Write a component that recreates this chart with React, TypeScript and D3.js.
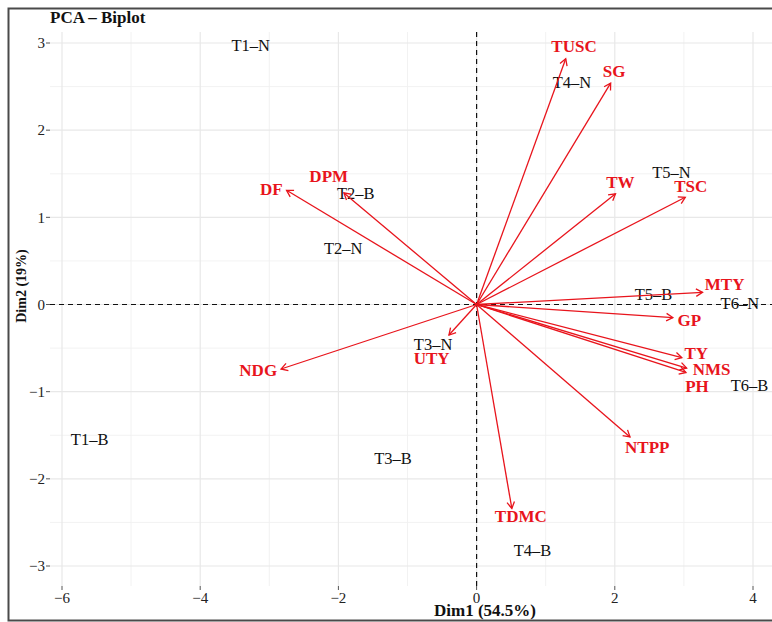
import React from "react";
import * as d3 from "d3";

// individuals (Dim1, Dim2)
const indNames = ["T1–N", "T1–B", "T2–N", "T2–B", "T3–N", "T3–B", "T4–N", "T4–B", "T5–N", "T5–B", "T6–N", "T6–B"];
const indDim1 = [-3.27, -5.6, -1.93, -1.75, -0.63, -1.21, 1.38, 0.81, 2.82, 2.56, 3.81, 3.95];
const indDim2 = [2.97, -1.54, 0.65, 1.28, -0.45, -1.76, 2.55, -2.82, 1.52, 0.12, 0.01, -0.93];

// variables: arrow tips and where the label sits
const varNames = ["TUSC", "SG", "TW", "TSC", "DF", "DPM", "NDG", "UTY", "MTY", "GP", "TY", "NMS", "PH", "NTPP", "TDMC"];
const varDim1 = [1.29, 1.94, 2.01, 3.02, -2.75, -1.92, -2.83, -0.4, 3.27, 2.84, 2.97, 3.04, 3.03, 2.22, 0.51];
const varDim2 = [2.82, 2.54, 1.27, 1.23, 1.31, 1.28, -0.74, -0.35, 0.14, -0.15, -0.61, -0.73, -0.78, -1.52, -2.34];
const varLabelDim1 = [1.41, 1.99, 2.08, 3.1, -2.97, -2.14, -3.16, -0.65, 3.59, 3.08, 3.18, 3.4, 3.19, 2.47, 0.64];
const varLabelDim2 = [2.96, 2.68, 1.41, 1.36, 1.33, 1.47, -0.75, -0.61, 0.24, -0.18, -0.56, -0.74, -0.93, -1.64, -2.43];

const xTicks = [-6, -4, -2, 0, 2, 4];
const xMinor = [-5, -3, -1, 1, 3];
const yTicks = [-3, -2, -1, 0, 1, 2, 3];
const yMinor = [-2.5, -1.5, -0.5, 0.5, 1.5, 2.5];

const RED = "#e8141c";

const App = () => {
  const left = 50;
  const right = 772;
  const top = 32;
  const bottom = 586;

  const x = d3.scaleLinear().domain([-6, 4]).range([62, 753]);
  const y = d3.scaleLinear().domain([-3, 3]).range([566, 43]);
  const fmt = d3.format("d");

  const arrowHead = (x1: number, y1: number, x2: number, y2: number) => {
    const a = Math.atan2(y2 - y1, x2 - x1);
    const len = 7.5;
    const spread = Math.PI / 6;
    const p1 = [x2 - len * Math.cos(a - spread), y2 - len * Math.sin(a - spread)];
    const p2 = [x2 - len * Math.cos(a + spread), y2 - len * Math.sin(a + spread)];
    return `M${p1[0]},${p1[1]}L${x2},${y2}L${p2[0]},${p2[1]}`;
  };

  return (
    <svg
      width={772}
      height={622}
      style={{ position: "absolute", left: 0, top: 0, background: "#fff" }}
      fontFamily="'Liberation Serif', 'Times New Roman', serif"
    >
      {/* grid */}
      <g>
        {yMinor.map((t) => (
          <line key={"ym" + t} x1={left} x2={right} y1={y(t)} y2={y(t)} stroke="#f0f0f0" strokeWidth={0.9} />
        ))}
        {xMinor.map((t) => (
          <line key={"xm" + t} x1={x(t)} x2={x(t)} y1={top} y2={bottom} stroke="#f0f0f0" strokeWidth={0.9} />
        ))}
        {yTicks.map((t) => (
          <line key={"y" + t} x1={left} x2={right} y1={y(t)} y2={y(t)} stroke="#e8e8e8" strokeWidth={1.2} />
        ))}
        {xTicks.map((t) => (
          <line key={"x" + t} x1={x(t)} x2={x(t)} y1={top} y2={bottom} stroke="#e8e8e8" strokeWidth={1.2} />
        ))}
      </g>

      {/* origin lines */}
      <line x1={left} x2={right} y1={y(0)} y2={y(0)} stroke="#111" strokeWidth={1.2} strokeDasharray="5,4" />
      <line x1={x(0)} x2={x(0)} y1={top} y2={bottom} stroke="#111" strokeWidth={1.2} strokeDasharray="5,4" />

      {/* axes ticks + labels */}
      <g fill="#222" fontSize={15}>
        {yTicks.map((t) => (
          <g key={"yt" + t}>
            <line x1={46} x2={50} y1={y(t)} y2={y(t)} stroke="#555" strokeWidth={1} />
            <text x={45} y={y(t)} dy="0.35em" textAnchor="end">
              {d3.format("")(t).replace("-", "−")}
            </text>
          </g>
        ))}
        {xTicks.map((t) => (
          <g key={"xt" + t}>
            <line x1={x(t)} x2={x(t)} y1={586} y2={590} stroke="#555" strokeWidth={1} />
            <text x={x(t)} y={603} textAnchor="middle">
              {fmt(t)}
            </text>
          </g>
        ))}
      </g>

      {/* individuals */}
      <g fill="#111" fontSize={16.5}>
        {indNames.map((n, i) => (
          <text key={n} x={x(indDim1[i])} y={y(indDim2[i])} dy="0.35em" textAnchor="middle">
            {n}
          </text>
        ))}
      </g>

      {/* variable arrows */}
      <g stroke={RED} strokeWidth={1.3} fill="none">
        {varNames.map((n, i) => {
          const x1 = x(0);
          const y1 = y(0);
          const x2 = x(varDim1[i]);
          const y2 = y(varDim2[i]);
          return (
            <g key={n}>
              <line x1={x1} y1={y1} x2={x2} y2={y2} />
              <path d={arrowHead(x1, y1, x2, y2)} />
            </g>
          );
        })}
      </g>
      <g fill={RED} fontSize={17} fontWeight="bold">
        {varNames.map((n, i) => (
          <text key={n} x={x(varLabelDim1[i])} y={y(varLabelDim2[i])} dy="0.35em" textAnchor="middle">
            {n}
          </text>
        ))}
      </g>

      {/* titles */}
      <text x={50} y={23} fontSize={17} fontWeight="bold" fill="#111">
        PCA – Biplot
      </text>
      <text x={485} y={616} fontSize={17} fontWeight="bold" fill="#111" textAnchor="middle">
        Dim1 (54.5%)
      </text>
      <text
        transform="translate(26,286) rotate(-90)"
        fontSize={14}
        fontWeight="bold"
        fill="#111"
        textAnchor="middle"
      >
        Dim2 (19%)
      </text>

      {/* outer frame */}
      <rect x={8.5} y={8.5} width={800} height={612} fill="none" stroke="#4a4a4a" strokeWidth={2} />
    </svg>
  );
};

export default App;
